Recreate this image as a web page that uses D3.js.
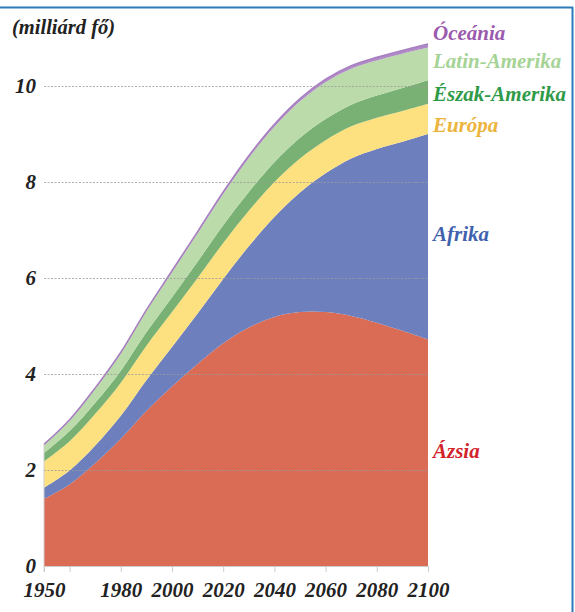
<!DOCTYPE html>
<html>
<head>
<meta charset="utf-8">
<script src="https://cdn.jsdelivr.net/npm/d3@7"></script>
<style>
  body { margin: 0; background: #fff; }
</style>
</head>
<body>
<svg id="chart" width="575" height="612"></svg>
<script>
// World population by region, billions
var years = [1950, 1960, 1970, 1980, 1990, 2000, 2010, 2020, 2030, 2040, 2050, 2060, 2070, 2080, 2090, 2100];
var asia     = [1.40, 1.70, 2.14, 2.65, 3.23, 3.74, 4.21, 4.64, 4.97, 5.19, 5.29, 5.29, 5.21, 5.07, 4.90, 4.72];
var africa   = [0.23, 0.29, 0.37, 0.48, 0.64, 0.82, 1.05, 1.34, 1.69, 2.08, 2.49, 2.89, 3.28, 3.62, 3.94, 4.28];
var europe   = [0.55, 0.61, 0.66, 0.69, 0.72, 0.73, 0.74, 0.75, 0.74, 0.73, 0.71, 0.69, 0.67, 0.65, 0.64, 0.63];
var northAm  = [0.17, 0.21, 0.23, 0.25, 0.28, 0.31, 0.34, 0.37, 0.39, 0.41, 0.43, 0.44, 0.45, 0.46, 0.48, 0.49];
var latinAm  = [0.17, 0.22, 0.29, 0.36, 0.44, 0.52, 0.59, 0.65, 0.71, 0.74, 0.76, 0.77, 0.75, 0.73, 0.71, 0.68];
var oceania  = [0.013, 0.016, 0.020, 0.023, 0.027, 0.031, 0.037, 0.043, 0.048, 0.053, 0.057, 0.061, 0.064, 0.068, 0.071, 0.075];

var yTicks = [0, 2, 4, 6, 8, 10];
var xTicks = [1950, 1960, 1980, 2000, 2020, 2040, 2060, 2080, 2100];
var xLabels = [1950, 1980, 2000, 2020, 2040, 2060, 2080, 2100];

var series = [
  { key: 'asia', name: 'Ázsia', values: asia, fill: '#da6b55', color: '#d2232a', labelY: 458 },
  { key: 'africa', name: 'Afrika', values: africa, fill: '#6d7fbd', color: '#3f62ae', labelY: 241 },
  { key: 'europe', name: 'Európa', values: europe, fill: '#fde07f', color: '#ecb43c', labelY: 132 },
  { key: 'northAm', name: 'Észak-Amerika', values: northAm, fill: '#78b173', color: '#2f9a48', labelY: 101 },
  { key: 'latinAm', name: 'Latin-Amerika', values: latinAm, fill: '#bbdbab', color: '#a6d396', labelY: 68 },
  { key: 'oceania', name: 'Óceánia', values: oceania, fill: '#b18bc7', color: '#9b5aad', labelY: 40 }
];

var FONT = "'Liberation Serif', 'Times New Roman', serif";

var rows = years.map(function(y, i) {
  var r = { year: y };
  series.forEach(function(s) { r[s.key] = s.values[i]; });
  return r;
});

var svg = d3.select('#chart');

var x = d3.scaleLinear().domain([1950, 2100]).range([44, 428]);
var y = d3.scaleLinear().domain([0, 10]).range([566, 86]);

// frame lines (top and right)
svg.append('line').attr('x1', 0).attr('x2', 573).attr('y1', 7.5).attr('y2', 7.5)
  .attr('stroke', '#2b7bba').attr('stroke-width', 2);
svg.append('line').attr('x1', 572.5).attr('x2', 572.5).attr('y1', 7).attr('y2', 612)
  .attr('stroke', '#2b7bba').attr('stroke-width', 2);

var stack = d3.stack().keys(series.map(function(s) { return s.key; }));
var layers = stack(rows);

var curve = d3.curveCatmullRom.alpha(0.5);

var area = d3.area()
  .x(function(d) { return x(d.data.year); })
  .y0(function(d) { return y(d[0]); })
  .y1(function(d) { return y(d[1]); })
  .curve(curve);

svg.append('g')
  .selectAll('path')
  .data(layers)
  .enter()
  .append('path')
  .attr('d', area)
  .attr('fill', function(d, i) { return series[i].fill; });

// purple edge on top of the stack
var topLine = d3.line()
  .x(function(d) { return x(d.data.year); })
  .y(function(d) { return y(d[1]); })
  .curve(curve);

svg.append('path')
  .datum(layers[layers.length - 1])
  .attr('d', topLine)
  .attr('fill', 'none')
  .attr('stroke', '#a77fc0')
  .attr('stroke-width', 1.5);

// dotted gridlines drawn over the areas
svg.append('g')
  .selectAll('line')
  .data(yTicks.filter(function(t) { return t > 0; }))
  .enter()
  .append('line')
  .attr('x1', 44).attr('x2', 428)
  .attr('y1', function(d) { return y(d) + 0.5; })
  .attr('y2', function(d) { return y(d) + 0.5; })
  .attr('stroke', '#9a9a9a')
  .attr('stroke-width', 0.8)
  .attr('stroke-dasharray', '2,1.5');

// left edge line
var total1950 = d3.sum(series, function(s) { return s.values[0]; });
svg.append('line')
  .attr('x1', x(1950)).attr('x2', x(1950))
  .attr('y1', y(0) + 6).attr('y2', y(total1950))
  .attr('stroke', '#cfcfcf').attr('stroke-width', 1);

// x axis
var xAxis = d3.axisBottom(x)
  .tickValues(xTicks)
  .tickSize(6)
  .tickFormat(function(d) { return xLabels.indexOf(d) >= 0 ? d : ''; });

var gx = svg.append('g').attr('transform', 'translate(0,' + y(0) + ')').call(xAxis)
  .attr('font-family', FONT).attr('font-size', 21);
gx.select('.domain').attr('stroke', '#cccccc');
gx.selectAll('.tick line').attr('stroke', '#cccccc');
gx.selectAll('.tick text')
  .attr('y', 16)
  .attr('fill', '#222')
  .attr('font-style', 'italic')
  .attr('font-weight', 'bold');

// y tick labels
svg.append('g')
  .selectAll('text')
  .data(yTicks)
  .enter()
  .append('text')
  .attr('x', 36)
  .attr('y', function(d) { return y(d); })
  .attr('dy', '0.35em')
  .attr('text-anchor', 'end')
  .attr('fill', '#222')
  .attr('font-family', FONT)
  .attr('font-style', 'italic')
  .attr('font-weight', 'bold')
  .attr('font-size', 21)
  .text(function(d) { return d; });

svg.append('text')
  .attr('x', 12).attr('y', 34)
  .attr('fill', '#222')
  .attr('font-family', FONT)
  .attr('font-style', 'italic')
  .attr('font-weight', 'bold')
  .attr('font-size', 20.5)
  .text('(milliárd fő)');

// region labels
svg.append('g')
  .selectAll('text')
  .data(series)
  .enter()
  .append('text')
  .attr('x', 433)
  .attr('y', function(d) { return d.labelY; })
  .attr('fill', function(d) { return d.color; })
  .attr('font-family', FONT)
  .attr('font-style', 'italic')
  .attr('font-weight', 'bold')
  .attr('font-size', 21)
  .text(function(d) { return d.name; });
</script>
</body>
</html>
